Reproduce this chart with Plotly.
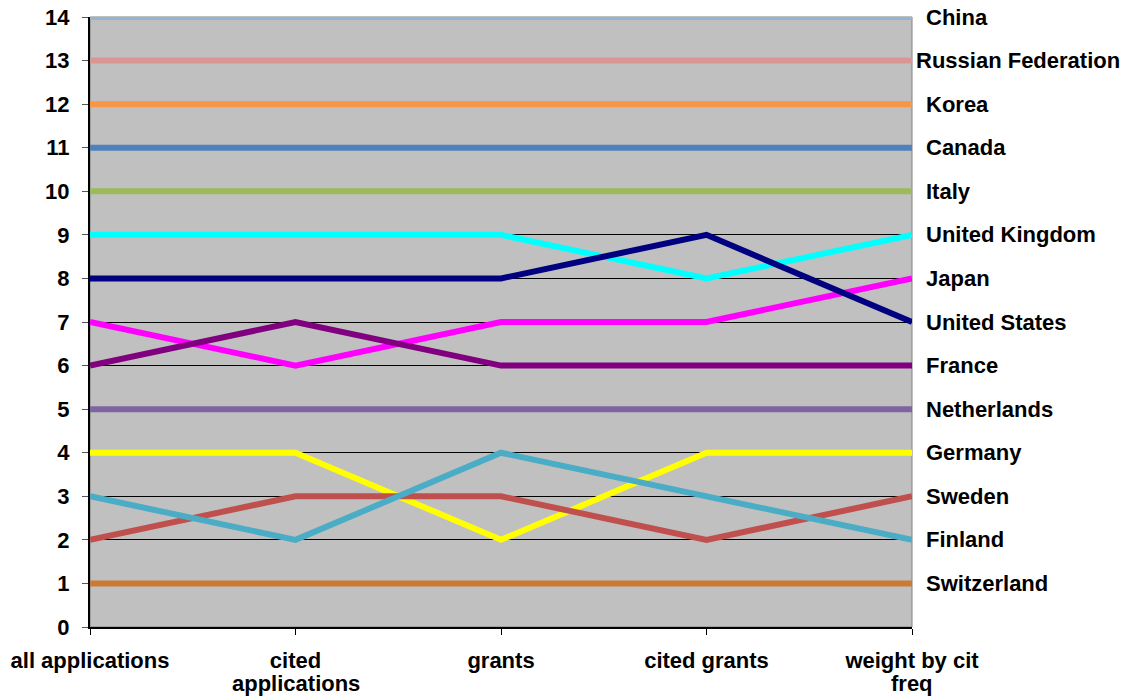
import plotly.graph_objects as go

categories = ["all applications", "cited<br>applications", "grants", "cited grants", "weight by cit<br>freq"]
countries = ["China", "Russian Federation", "Korea", "Canada", "Italy", "United Kingdom",
             "Japan", "United States", "France", "Netherlands", "Germany", "Sweden",
             "Finland", "Switzerland"]
china = [14, 14, 14, 14, 14]
russia = [13, 13, 13, 13, 13]
korea = [12, 12, 12, 12, 12]
canada = [11, 11, 11, 11, 11]
italy = [10, 10, 10, 10, 10]
uk = [9, 9, 9, 8, 9]
japan = [7, 6, 7, 7, 8]
us = [8, 8, 8, 9, 7]
france = [6, 7, 6, 6, 6]
netherlands = [5, 5, 5, 5, 5]
germany = [4, 4, 2, 4, 4]
sweden = [2, 3, 3, 2, 3]
finland = [3, 2, 4, 3, 2]
switzerland = [1, 1, 1, 1, 1]
series = [china, russia, korea, canada, italy, uk, japan, us, france, netherlands,
          germany, sweden, finland, switzerland]
colors = ["#95B3D7", "#D99694", "#F79646", "#4F81BD", "#9BBB59", "#00FFFF",
          "#FF00FF", "#000080", "#800080", "#8064A2", "#FFFF00", "#C0504D",
          "#4BACC6", "#CC7A33"]
label_shift = {"Russian Federation": 2}

FONT = "Liberation Sans, Arial, sans-serif"
FS = 22
xs = list(range(len(categories)))
bold = dict(family=FONT, size=FS, color="black", weight="bold")

fig = go.Figure()
for name, vals, col in zip(countries, series, colors):
    fig.add_trace(go.Scatter(x=xs, y=vals, mode="lines", name=name,
                             line=dict(color=col, width=6), showlegend=False,
                             hoverinfo="skip"))

for name, vals in zip(countries, series):
    fig.add_annotation(x=xs[-1], y=vals[-1], xref="x", yref="y", text=name,
                       showarrow=False, xanchor="left", yanchor="middle",
                       xshift=label_shift.get(name, 12), font=bold)

# category labels: first line as tick text, following lines with tighter spacing
first_lines = [c.split("<br>")[0] for c in categories]
for x, c in zip(xs, categories):
    for i, extra in enumerate(c.split("<br>")[1:], start=1):
        fig.add_annotation(x=x, y=0, xref="x", yref="paper", text=extra,
                           showarrow=False, xanchor="center", yanchor="middle",
                           yshift=-33 - 23 * i, font=bold)

fig.add_shape(type="rect", xref="paper", yref="paper", x0=0, y0=0, x1=1, y1=1,
              line=dict(color="#808080", width=1), layer="below")

fig.update_layout(
    width=1125, height=698,
    margin=dict(l=90, r=213, t=17, b=71),
    paper_bgcolor="white", plot_bgcolor="#C0C0C0",
    font=dict(family=FONT, color="black"),
    xaxis=dict(range=[0, 4], tickvals=xs, ticktext=first_lines, showgrid=False,
               zeroline=False, showline=True, linecolor="black", linewidth=2,
               ticks="outside", ticklen=6, tickcolor="black", tickwidth=1,
               ticklabelstandoff=7, automargin=False, ticklabeloverflow="allow",
               tickfont=bold),
    yaxis=dict(range=[0, 14], dtick=1, showgrid=True, gridcolor="black", gridwidth=1,
               zeroline=False, showline=True, linecolor="black", linewidth=2,
               ticks="outside", ticklen=6, tickcolor="#555555", tickwidth=1,
               ticklabelstandoff=8, automargin=False, ticklabeloverflow="allow",
               tickfont=bold),
)

# remove the browser's default 8px body margin so the figure fills the window
fig.write_html("out.html", config={"displayModeBar": False},
               post_script="document.body.style.margin='0';")
